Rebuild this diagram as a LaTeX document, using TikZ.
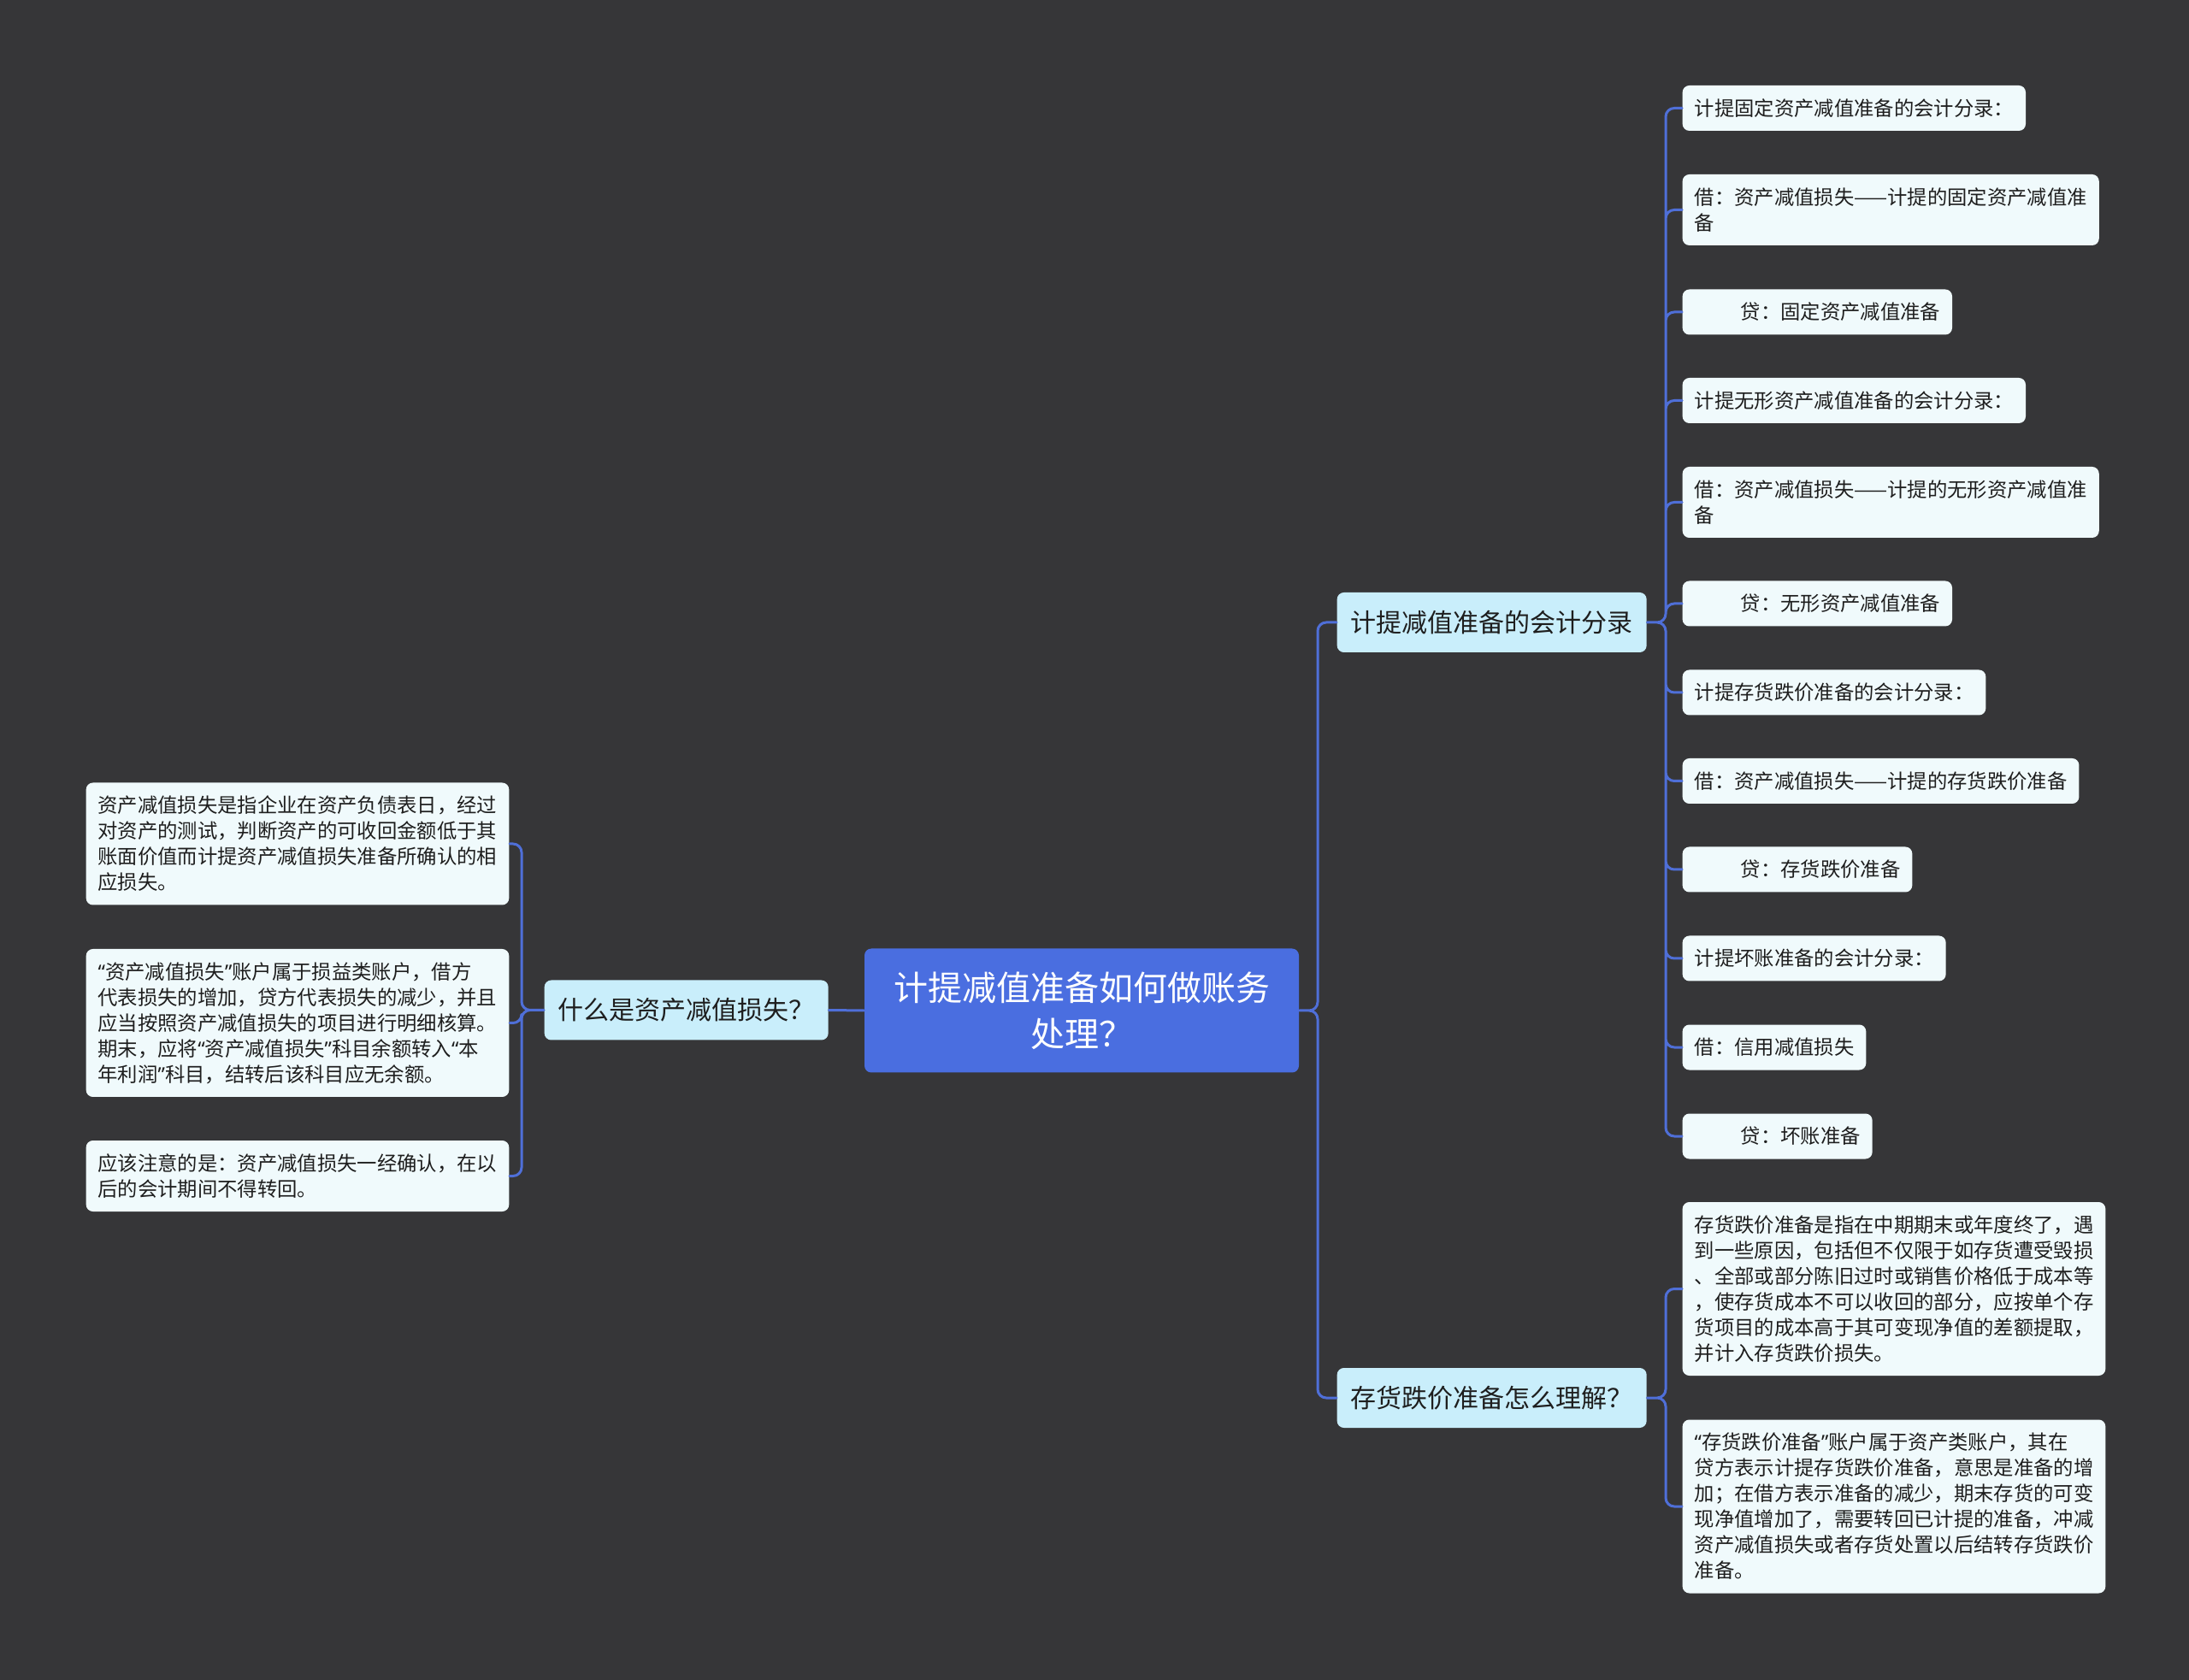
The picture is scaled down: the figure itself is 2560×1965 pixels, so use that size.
\documentclass[tikz,border=0pt]{standalone}
\usepackage{fontspec}
\newfontfamily\cjk{Noto Sans CJK SC}
\newfontfamily\qfont{Noto Sans}
\newcommand\oq{{\qfont “}}
\newcommand\cq{{\qfont ”}}
\definecolor{bgc}{HTML}{363638}
\definecolor{rootc}{HTML}{4A6EE0}
\definecolor{branchc}{HTML}{C9EEFB}
\definecolor{leafc}{HTML}{F0FAFC}
\definecolor{linkc}{HTML}{4F6FD8}
\definecolor{inkc}{HTML}{1E1E1E}
\begin{document}
\begin{tikzpicture}[x=.3pt,y=-.3pt,line join=round,line cap=round,
	root/.style={fill=rootc,text=white,rounded corners=2.4pt,align=center,
		font=\cjk\fontsize{12}{16.2}\selectfont,minimum width=152.4pt,minimum height=43.5pt},
	branch/.style={fill=branchc,text=inkc,rounded corners=2.4pt,anchor=west,
		font=\cjk\fontsize{9}{11}\selectfont,inner xsep=4.8pt,inner ysep=0pt,minimum height=21pt},
	leaf/.style={fill=leafc,text=inkc,rounded corners=2.4pt,anchor=west,align=left,
		font=\cjk\fontsize{7}{9}\selectfont,inner xsep=4.2pt,inner ysep=0pt,minimum height=#1*9pt+6.9pt},
	leaf/.default=1,
	link/.style={draw=linkc,line width=.9pt,rounded corners=3pt}]
	\useasboundingbox (0,0) rectangle (2560,1965);
	\fill[bgc] (0,0) rectangle (2560,1965);
	\path
	(1541,0) coordinate (T)
	(1948,0) coordinate (T1)
	(1948,0) coordinate (T2)
	(610,0) coordinate (TL)
	;
	% centre and branches
	\node[root] (R) at (1265,1182) {计提减值准备如何做账务\\处理？};
	\node[branch] (B1) at (1563,728) {计提减值准备的会计分录};
	\node[branch] (B2) at (1563,1635) {存货跌价准备怎么理解？};
	\node[branch] (BL) at (636,1181.5) {什么是资产减值损失？};
	% left leaves
	\node[leaf=4] (L1) at (100,987) {资产减值损失是指企业在资产负债表日，经过\\对资产的测试，判断资产的可收回金额低于其\\账面价值而计提资产减值损失准备所确认的相\\应损失。};
	\node[leaf=5] (L2) at (100,1196.5) {\oq 资产减值损失\cq 账户属于损益类账户，借方\\代表损失的增加，贷方代表损失的减少，并且\\应当按照资产减值损失的项目进行明细核算。\\期末，应将\oq 资产减值损失\cq 科目余额转入\oq 本\\年利润\cq 科目，结转后该科目应无余额。};
	\node[leaf=2] (L3) at (100,1375.5) {应该注意的是：资产减值损失一经确认，在以\\后的会计期间不得转回。};
	% right leaves
	\node[leaf] (E1) at (1967,126.5) {计提固定资产减值准备的会计分录：};
	\node[leaf=2] (E2) at (1967,245.5) {借：资产减值损失——计提的固定资产减值准\\备};
	\node[leaf] (E3) at (1967,365) {\hspace*{16.2pt}贷：固定资产减值准备};
	\node[leaf] (E4) at (1967,468.5) {计提无形资产减值准备的会计分录：};
	\node[leaf=2] (E5) at (1967,587.5) {借：资产减值损失——计提的无形资产减值准\\备};
	\node[leaf] (E6) at (1967,706) {\hspace*{16.2pt}贷：无形资产减值准备};
	\node[leaf] (E7) at (1967,810) {计提存货跌价准备的会计分录：};
	\node[leaf] (E8) at (1967,913.5) {借：资产减值损失——计提的存货跌价准备};
	\node[leaf] (E9) at (1967,1017) {\hspace*{16.2pt}贷：存货跌价准备};
	\node[leaf] (E10) at (1967,1121) {计提坏账准备的会计分录：};
	\node[leaf] (E11) at (1967,1225) {借：信用减值损失};
	\node[leaf] (E12) at (1967,1329) {\hspace*{16.2pt}贷：坏账准备};
	\node[leaf=6] (D1) at (1967,1507.5) {存货跌价准备是指在中期期末或年度终了，遇\\到一些原因，包括但不仅限于如存货遭受毁损\\、全部或部分陈旧过时或销售价格低于成本等\\，使存货成本不可以收回的部分，应按单个存\\货项目的成本高于其可变现净值的差额提取，\\并计入存货跌价损失。};
	\node[leaf=6] (D2) at (1967,1762) {\oq 存货跌价准备\cq 账户属于资产类账户，其在\\贷方表示计提存货跌价准备，意思是准备的增\\加；在借方表示准备的减少，期末存货的可变\\现净值增加了，需要转回已计提的准备，冲减\\资产减值损失或者存货处置以后结转存货跌价\\准备。};
	% connectors
	\draw[link]
	(R.east) -- (R.east -| T) |- (B1.west)
	(R.east) -- (R.east -| T) |- (B2.west)
	(R.west) -- (BL.east)
	(BL.west) -- (BL.west -| TL) |- (L1.east)
	(BL.west) -- (BL.west -| TL) |- (L2.east)
	(BL.west) -- (BL.west -| TL) |- (L3.east)
	(B1.east) -- (B1.east -| T1) |- (E1.west)
	(B1.east) -- (B1.east -| T1) |- (E2.west)
	(B1.east) -- (B1.east -| T1) |- (E3.west)
	(B1.east) -- (B1.east -| T1) |- (E4.west)
	(B1.east) -- (B1.east -| T1) |- (E5.west)
	(B1.east) -- (B1.east -| T1) |- (E6.west)
	(B1.east) -- (B1.east -| T1) |- (E7.west)
	(B1.east) -- (B1.east -| T1) |- (E8.west)
	(B1.east) -- (B1.east -| T1) |- (E9.west)
	(B1.east) -- (B1.east -| T1) |- (E10.west)
	(B1.east) -- (B1.east -| T1) |- (E11.west)
	(B1.east) -- (B1.east -| T1) |- (E12.west)
	(B2.east) -- (B2.east -| T2) |- (D1.west)
	(B2.east) -- (B2.east -| T2) |- (D2.west)
	;
\end{tikzpicture}
\end{document}
